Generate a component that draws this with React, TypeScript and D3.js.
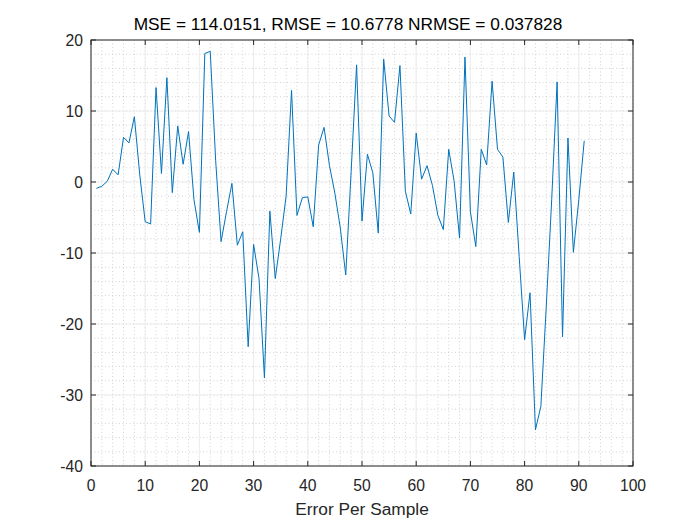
import React from "react";
import * as d3 from "d3";

const titleText = "MSE = 114.0151, RMSE = 10.6778 NRMSE = 0.037828";
const xLabelText = "Error Per Sample";

const errorValues: number[] = [
  -0.9, -0.6, 0.1, 1.8, 1.0, 6.3, 5.5, 9.2, 1.0, -5.6,
  -5.9, 13.3, 1.2, 14.7, -1.5, 7.9, 2.5, 7.1, -2.5, -7.1,
  18.1, 18.4, 3.0, -8.4, -4.2, -0.2, -8.9, -7.0, -23.2, -8.8,
  -13.6, -27.6, -4.1, -13.6, -8.0, -2.0, 12.9, -4.7, -2.2, -2.1,
  -6.3, 5.2, 7.7, 2.3, -1.6, -6.5, -13.1, 1.5, 16.5, -5.5,
  3.9, 1.3, -7.2, 17.3, 9.3, 8.4, 16.4, -1.3, -4.5, 6.9,
  0.4, 2.3, -0.5, -4.7, -6.7, 4.6, 0.1, -7.9, 17.6, -4.2,
  -9.1, 4.6, 2.4, 14.2, 4.6, 3.5, -5.7, 1.4, -10.5, -22.2,
  -15.6, -34.9, -31.6, -17.5, -2.5, 14.1, -21.8, 6.2, -9.9, -2.5,
  5.8,
];
const sampleIndex: number[] = errorValues.map((_, i) => i + 1);

const xTicks: number[] = [0, 10, 20, 30, 40, 50, 60, 70, 80, 90, 100];
const yTicks: number[] = [-40, -30, -20, -10, 0, 10, 20];
const xMinorTicks: number[] = d3.range(0, 101, 2);
const yMinorTicks: number[] = d3.range(-40, 21, 2);

const W = 700;
const H = 525;
const M = { left: 91, right: 633, top: 40, bottom: 466 };
const FONT = "'Liberation Sans', Arial, Helvetica, sans-serif";
const AX = "#262626";

export default function App() {
  const x = d3.scaleLinear().domain([0, 100]).range([M.left, M.right]);
  const y = d3.scaleLinear().domain([-40, 20]).range([M.bottom, M.top]);
  const line = d3
    .line<number>()
    .x((_, i) => x(sampleIndex[i]))
    .y((d) => y(d));
  const tl = 5;

  return (
    <svg
      width={W}
      height={H}
      style={{ position: "absolute", left: 0, top: 0, background: "#fff" }}
      fontFamily={FONT}
    >
      <rect x={0} y={0} width={W} height={H} fill="#fff" />
      {xMinorTicks.map((t) => (
        <line
          key={"gx" + t}
          x1={x(t)}
          x2={x(t)}
          y1={M.top}
          y2={M.bottom}
          stroke={t % 10 === 0 ? "#c8c8c8" : "#d2d2d2"}
          strokeWidth={1}
          strokeDasharray="1,2.5"
        />
      ))}
      {yMinorTicks.map((t) => (
        <line
          key={"gy" + t}
          x1={M.left}
          x2={M.right}
          y1={y(t)}
          y2={y(t)}
          stroke={t % 10 === 0 ? "#c8c8c8" : "#d2d2d2"}
          strokeWidth={1}
          strokeDasharray="1,2.5"
        />
      ))}
      {xTicks.map((t) => (
        <line
          key={"Gx" + t}
          x1={x(t)}
          x2={x(t)}
          y1={M.top}
          y2={M.bottom}
          stroke="#eeeeee"
          strokeWidth={1}
        />
      ))}
      {yTicks.map((t) => (
        <line
          key={"Gy" + t}
          x1={M.left}
          x2={M.right}
          y1={y(t)}
          y2={y(t)}
          stroke="#eeeeee"
          strokeWidth={1}
        />
      ))}

      <path
        d={line(errorValues) || ""}
        fill="none"
        stroke="#0072BD"
        strokeWidth={1}
        strokeLinejoin="round"
      />

      <rect
        x={M.left}
        y={M.top}
        width={M.right - M.left}
        height={M.bottom - M.top}
        fill="none"
        stroke={AX}
        strokeWidth={1}
      />
      {xTicks.map((t) => (
        <g key={"tx" + t}>
          <line x1={x(t)} x2={x(t)} y1={M.bottom} y2={M.bottom - tl} stroke={AX} />
          <line x1={x(t)} x2={x(t)} y1={M.top} y2={M.top + tl} stroke={AX} />
          <text
            x={x(t)}
            y={M.bottom + 25}
            textAnchor="middle"
            fontSize={15.7}
            fill={AX}
          >
            {t}
          </text>
        </g>
      ))}
      {yTicks.map((t) => (
        <g key={"ty" + t}>
          <line x1={M.left} x2={M.left + tl} y1={y(t)} y2={y(t)} stroke={AX} />
          <line x1={M.right} x2={M.right - tl} y1={y(t)} y2={y(t)} stroke={AX} />
          <text
            x={M.left - 8}
            y={y(t) + 5.5}
            textAnchor="end"
            fontSize={15.7}
            fill={AX}
          >
            {t}
          </text>
        </g>
      ))}

      <text
        x={(M.left + M.right) / 2 - 14}
        y={30}
        textAnchor="middle"
        fontSize={17.3}
        fill="#000"
      >
        {titleText}
      </text>
      <text
        x={(M.left + M.right) / 2}
        y={515}
        textAnchor="middle"
        fontSize={17.3}
        fill={AX}
      >
        {xLabelText}
      </text>
    </svg>
  );
}
